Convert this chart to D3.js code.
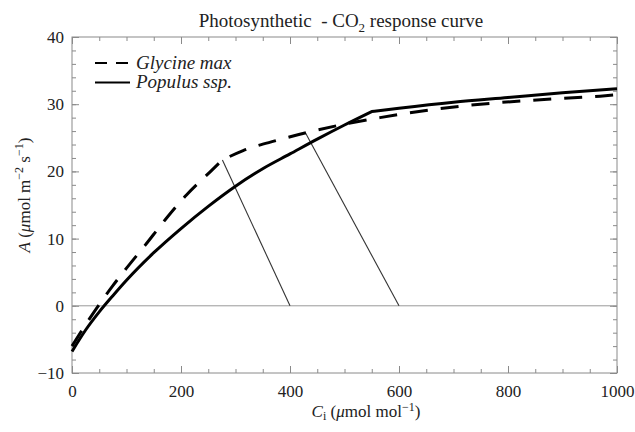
<!DOCTYPE html>
<html>
<head>
<meta charset="utf-8">
<script src="https://cdn.jsdelivr.net/npm/d3@7"></script>
<style>
    body { margin: 0; background: #fff; }
    text { font-family: "Liberation Serif", "Times New Roman", Times, serif; fill: #222; }
</style>
</head>
<body>
<svg id="chart" width="635" height="432"></svg>
<script>
// Glycine max: Rubisco limited part, then RuBP limited part (Ci, A)
var glycineRubisco = [[0, -6.0], [25, -2.8], [50, 0.2], [75, 3.0], [100, 5.6], [134, 9.0], [171, 12.8], [210, 16.5], [253, 19.9], [276, 21.7]];
var glycineRubp = [[276, 21.7], [314, 23.1], [375, 24.6], [437, 25.9], [492, 26.9], [565, 28.0], [602, 28.5], [724, 29.8], [846, 30.6], [969, 31.2], [1000, 31.4]];
// Populus ssp.
var populusRubisco = [[0, -6.8], [25, -3.6], [50, -0.9], [75, 1.5], [100, 3.8], [150, 7.9], [200, 11.5], [250, 14.8], [300, 17.8], [350, 20.4], [400, 22.6], [450, 24.8], [500, 26.9], [550, 28.9]];
var populusRubp = [[550, 28.9], [600, 29.4], [700, 30.3], [800, 31.0], [900, 31.7], [1000, 32.3]];
// CO2 supply lines (from the x axis up to the operating point)
var supplyLines = [[[400, 0], [276, 21.7]], [[600, 0], [428, 25.8]]];

var xTicks = [0, 200, 400, 600, 800, 1000];
var yTicks = [-10, 0, 10, 20, 30, 40];
var legendNames = ["Glycine max", "Populus ssp."];

var svg = d3.select("#chart");
var x = d3.scaleLinear().domain([0, 1000]).range([72, 617]);
var y = d3.scaleLinear().domain([-10, 40]).range([373, 37]);

var axisColor = "#8a8a8a";
var serif = "'Liberation Serif', 'Times New Roman', Times, serif";

// minor + major ticks on all four sides, pointing inwards
function drawAxis(gen, pos, minorVals, majorVals, withLabels, pad) {
    var gm = svg.append("g").attr("transform", pos)
        .call(gen().tickValues(minorVals).tickSize(-4).tickFormat(""));
    var gM = svg.append("g").attr("transform", pos)
        .call(gen().tickValues(majorVals).tickSize(-7).tickPadding(pad)
            .tickFormat(withLabels ? d3.format("") : ""));
    [gm, gM].forEach(function (g) {
        g.attr("font-family", serif).attr("font-size", 17);
        g.select(".domain").remove();
        g.selectAll(".tick line").attr("stroke", axisColor);
        g.selectAll(".tick text").attr("fill", "#222");
    });
}

var xMinor = d3.range(0, 1001, 50);
var yMinor = d3.range(-10, 41, 2);
drawAxis(function () { return d3.axisBottom(x); }, "translate(0," + y(-10) + ")", xMinor, xTicks, true, 12);
drawAxis(function () { return d3.axisTop(x); }, "translate(0," + y(40) + ")", xMinor, xTicks, false, 3);
drawAxis(function () { return d3.axisLeft(y); }, "translate(" + x(0) + ",0)", yMinor, yTicks, true, 8);
drawAxis(function () { return d3.axisRight(y); }, "translate(" + x(1000) + ",0)", yMinor, yTicks, false, 3);

// frame
svg.append("rect")
    .attr("x", x(0)).attr("y", y(40))
    .attr("width", x(1000) - x(0)).attr("height", y(-10) - y(40))
    .attr("fill", "none").attr("stroke", axisColor).attr("stroke-width", 1);

// zero line
svg.append("line")
    .attr("x1", x(0)).attr("x2", x(1000)).attr("y1", y(0)).attr("y2", y(0))
    .attr("stroke", "#999").attr("stroke-width", 1);

// supply lines
var straight = d3.line().x(d => x(d[0])).y(d => y(d[1]));
svg.selectAll(".supply").data(supplyLines).enter().append("path")
    .attr("class", "supply")
    .attr("d", straight)
    .attr("fill", "none").attr("stroke", "#333").attr("stroke-width", 1.1);

// response curves, each drawn as two smooth pieces joined at the kink
var curve = d3.line().x(d => x(d[0])).y(d => y(d[1])).curve(d3.curveMonotoneX);
function joined(a, b) {
    // second piece continues the first path so the dash pattern runs on
    return curve(a) + curve(b).replace(/^M/, "L");
}
svg.append("path").attr("d", joined(populusRubisco, populusRubp))
    .attr("fill", "none").attr("stroke", "#000").attr("stroke-width", 3)
    .attr("stroke-linejoin", "round");
svg.append("path").attr("d", joined(glycineRubisco, glycineRubp))
    .attr("fill", "none").attr("stroke", "#000").attr("stroke-width", 3)
    .attr("stroke-dasharray", "18,13");

// legend
var legend = svg.append("g");
[0, 1].forEach(function (i) {
    var ly = 63 + i * 19.5;
    legend.append("line")
        .attr("x1", 95).attr("x2", 130).attr("y1", ly).attr("y2", ly)
        .attr("stroke", "#000").attr("stroke-width", 2.2)
        .attr("stroke-dasharray", i == 0 ? "12,9" : null);
    legend.append("text")
        .attr("x", 136).attr("y", ly + 5.5)
        .attr("font-size", 19).attr("font-style", "italic").attr("fill", "#000")
        .text(legendNames[i]);
});

// title
var title = svg.append("text").attr("x", 341).attr("y", 27)
    .attr("text-anchor", "middle").attr("font-size", 19).style("white-space", "pre");
title.append("tspan").text("Photosynthetic  - CO");
title.append("tspan").attr("dy", 5).attr("font-size", 13).text("2");
title.append("tspan").attr("dy", -5).text(" response curve");

// x label
var xl = svg.append("text").attr("x", 366).attr("y", 417)
    .attr("text-anchor", "middle").attr("font-size", 17);
xl.append("tspan").attr("font-style", "italic").text("C");
xl.append("tspan").attr("dy", 3).attr("font-size", 12).text("i");
xl.append("tspan").attr("dy", -3).text(" (");
xl.append("tspan").attr("font-style", "italic").text("μ");
xl.append("tspan").text("mol mol");
xl.append("tspan").attr("dy", -6).attr("font-size", 12).text("−1");
xl.append("tspan").attr("dy", 6).text(")");

// y label
var yl = svg.append("text").attr("transform", "translate(30,195) rotate(-90)")
    .attr("text-anchor", "middle").attr("font-size", 17);
yl.append("tspan").attr("font-style", "italic").text("A");
yl.append("tspan").text(" (");
yl.append("tspan").attr("font-style", "italic").text("μ");
yl.append("tspan").text("mol m");
yl.append("tspan").attr("dy", -7).attr("font-size", 12).text("−2");
yl.append("tspan").attr("dy", 7).text(" s");
yl.append("tspan").attr("dy", -7).attr("font-size", 12).text("−1");
yl.append("tspan").attr("dy", 7).text(")");
</script>
</body>
</html>
